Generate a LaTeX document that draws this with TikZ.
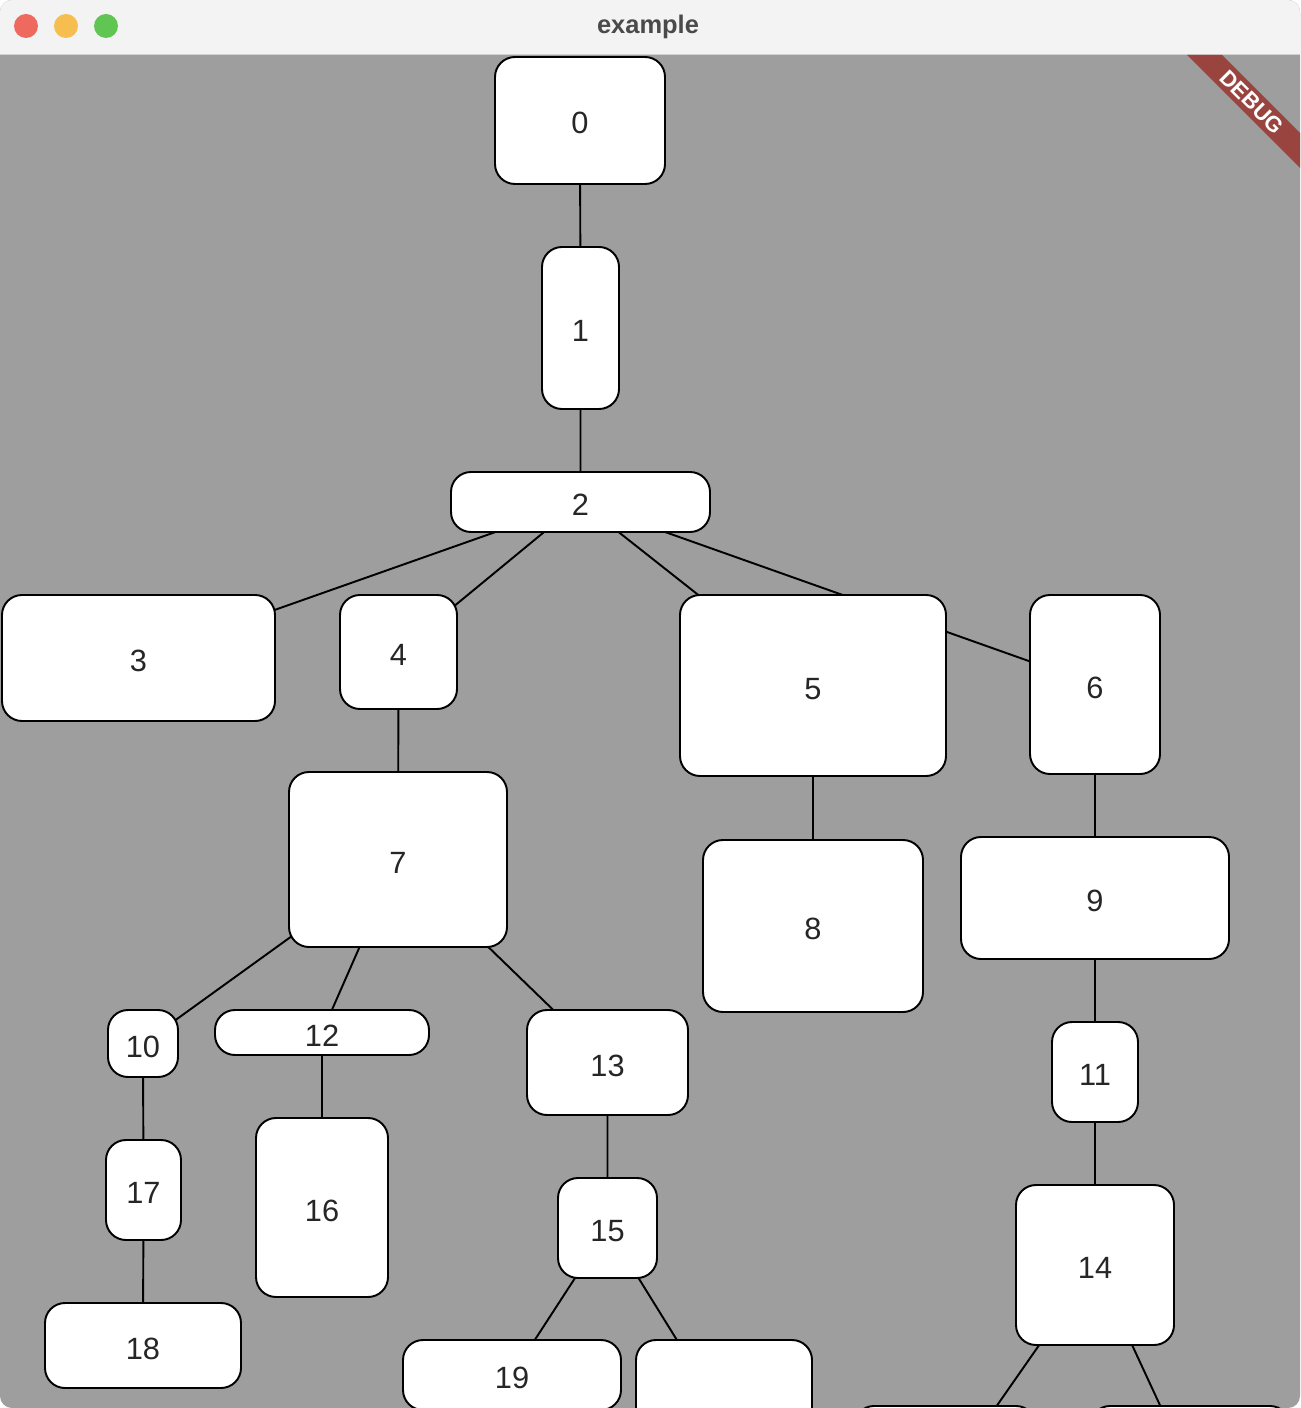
\documentclass[tikz,border=0pt]{standalone}
\usepackage{fontspec}
\setmainfont{Liberation Sans}
\usepackage{xcolor}
\usetikzlibrary{backgrounds}
\definecolor{winbg}{HTML}{9E9E9E}
\definecolor{titlebg}{HTML}{F3F3F3}
\definecolor{titlefg}{HTML}{4A4A4A}
\definecolor{tlred}{HTML}{EE6A5F}
\definecolor{tlyellow}{HTML}{F5BE4F}
\definecolor{tlgreen}{HTML}{61C554}
\definecolor{bannerred}{HTML}{9A4440}
\begin{document}
\begin{tikzpicture}[x=0.02cm, y=-0.02cm,
    box/.style={rectangle, draw=black, fill=white, line width=1.1pt,
                rounded corners=0.4cm, inner sep=0pt,
                text height=0.54cm, text depth=0pt,
                font=\fontsize{17.5}{20}\selectfont, text=black!85},
    sz/.style 2 args={minimum width=#1*0.02cm, minimum height=#2*0.02cm},
    link/.style={draw=black, line width=1.1pt},
    light/.style={circle, inner sep=0pt, minimum size=0.48cm, fill=#1}
]
\useasboundingbox (0,0) rectangle (1300,1408);

% window
\begin{scope}[on background layer]
\fill[white] (0,0) rectangle (1300,1408);
\fill[winbg, rounded corners=0.24cm] (0,0) rectangle (1300,1408);
\fill[titlebg, rounded corners=0.24cm] (0,0) -- (0,55) -- (1300,55) -- (1300,0) -- cycle;
\fill[titlebg] (0,20) rectangle (1300,55);
\draw[black!18, line width=0.8pt] (0,54.5) -- (1300,54.5);
\end{scope}
\node[light=tlred]    (red)    at (26,26)  {};
\node[light=tlyellow] (yellow) at (66,26)  {};
\node[light=tlgreen]  (green)  at (106,26) {};
\node[font=\bfseries\fontsize{14.5}{16}\selectfont, text=titlefg] (title) at (648,27) {example};

% tree
\node[box, sz={170}{127}] (n0)  at (580,120.5)  {0};
\node[box, sz={77}{162}]  (n1)  at (580.5,328)  {1};
\node[box, sz={259}{60}]  (n2)  at (580.5,502)  {2};
\node[box, sz={273}{126}] (n3)  at (138.5,658)  {3};
\node[box, sz={117}{114}] (n4)  at (398.5,652)  {4};
\node[box, sz={266}{181}] (n5)  at (813,685.5)  {5};
\node[box, sz={130}{179}] (n6)  at (1095,684.5) {6};
\node[box, sz={218}{175}] (n7)  at (398,859.5)  {7};
\node[box, sz={220}{172}] (n8)  at (813,926)    {8};
\node[box, sz={268}{122}] (n9)  at (1095,898)   {9};
\node[box, sz={70}{67}]   (n10) at (143,1043.5) {10};
\node[box, sz={86}{100}]  (n11) at (1095,1072)  {11};
\node[box, sz={214}{45}]  (n12) at (322,1032.5) {12};
\node[box, sz={161}{105}] (n13) at (607.5,1062.5) {13};
\node[box, sz={158}{160}] (n14) at (1095,1265)  {14};
\node[box, sz={99}{100}]  (n15) at (607.5,1228) {15};
\node[box, sz={132}{179}] (n16) at (322,1207.5) {16};
\node[box, sz={75}{100}]  (n17) at (143.5,1190) {17};
\node[box, sz={196}{85}]  (n18) at (143,1345.5) {18};
\node[box, sz={218}{70}]  (n19) at (512,1375)   {19};
\node[box, sz={176}{152}] (n20) at (724,1416)   {};
\node[box, sz={182}{148}] (n21) at (945,1480)   {};
\node[box, sz={200}{128}] (n22) at (1190,1470)  {};

\begin{scope}[on background layer]
\draw[link] (n0.center) -- (n1.center) -- (n2.center);
\draw[link] (n2.center) -- (n3.center);
\draw[link] (n2.center) -- (n4.center);
\draw[link] (n2.center) -- (n5.center);
\draw[link] (n2.center) -- (n6.center);
\draw[link] (n4.center) -- (n7.center);
\draw[link] (n5.center) -- (n8.center);
\draw[link] (n6.center) -- (n9.center) -- (n11.center) -- (n14.center);
\draw[link] (n7.center) -- (n10.center) -- (n17.center) -- (n18.center);
\draw[link] (n7.center) -- (n12.center) -- (n16.center);
\draw[link] (n7.center) -- (n13.center) -- (n15.center);
\draw[link] (n15.center) -- (n19.center);
\draw[link] (n15.center) -- (n20.center);
\draw[link] (n14.center) -- (n21.center);
\draw[link] (n14.center) -- (n22.center);
\end{scope}

% debug banner
\fill[bannerred] (1187,55) -- (1222,55) -- (1300,133) -- (1300,168) -- cycle;
\node[rotate=-45, inner sep=0pt, text=white, font=\bfseries\fontsize{12.5}{14}\selectfont] (debug) at (1252,102) {DEBUG};
\end{tikzpicture}
\end{document}
